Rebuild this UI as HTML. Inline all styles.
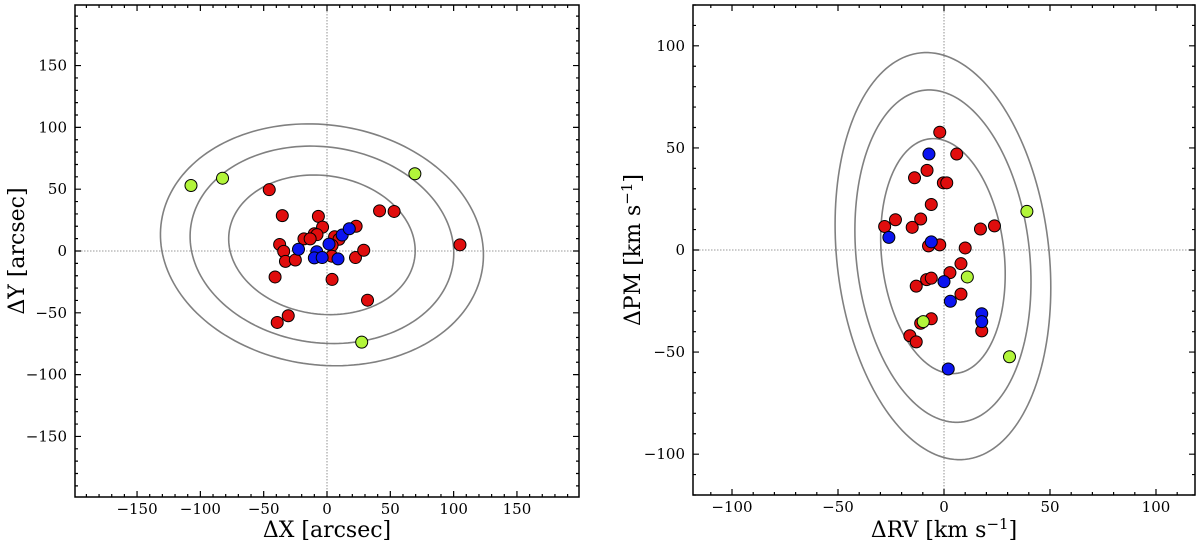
<!DOCTYPE html>
<html><head><meta charset="utf-8"><style>
body{margin:0;background:#fff}
svg{display:block;font-family:"DejaVu Serif","Liberation Serif",serif}
</style></head><body>
<svg id="c" width="1200" height="544" xmlns="http://www.w3.org/2000/svg"></svg>
<script>
// ---------- Data: left panel (ΔX, ΔY arcsec) ----------
const leftRedX=[-45.6,-35.3,-6.8,-3.5,-10,-7.9,-18.2,-13.3,6,9.5,23,41.5,53,105,-37.4,-34.2,-32.8,-25,4,3.8,22.5,29,-41,4,32,-30.6,-39.3];
const leftRedY=[49.6,28.6,28,19.3,14,13.2,9.8,9.8,11.5,9.5,20,32.5,32,5,5.3,-0.3,-8.4,-7.3,4.5,-4.2,-5.3,0.6,-21,-23,-39.8,-52.4,-57.8];
const leftBlueX=[-22.5,1.6,12,17.6,-8.1,-10,-3.8,8.7];
const leftBlueY=[1.4,5.6,12.9,18,-0.6,-5.6,-5.3,-6.4];
const leftGreenX=[-107.4,-82.5,69.4,27.4];
const leftGreenY=[53,58.9,62.5,-73.7];
const leftEllCenter=[-4,5];
const leftEllAxes=[74,56];
const leftEllAngle=-0.153;
const ellLevels=[1,1.414,1.732];
const leftTicks=[-150,-100,-50,0,50,100,150];
// ---------- Data: right panel (ΔRV, ΔPM km/s) ----------
const rightRedX=[-2,6,-8,-13.9,-0.3,1.3,-6,-22.9,-11,-28,-15,17.2,23.8,-7.3,-2,10,8,2.8,-8.2,-6,-13.1,8,-11,-6,-16.1,-13.1,17.8];
const rightRedY=[57.7,47,39,35.4,32.9,32.9,22.3,14.8,15.2,11.5,11.1,10.3,11.8,2,2.5,1,-6.7,-11.1,-14.5,-13.8,-17.7,-21.6,-35.9,-33.7,-42,-45,-39.6];
const rightBlueX=[-7.1,-26,-6,0,3,17.8,17.8,2];
const rightBlueY=[47,6.2,4,-15.5,-25.1,-31.2,-35.1,-58.3];
const rightGreenX=[39.1,11,-9.8,30.9];
const rightGreenY=[18.9,-13.2,-35.1,-52.3];
const rightEllCenter=[-0.5,-3];
const rightEllAxes=[57.8,28.9];
const rightEllAngle=1.676;
const rightTicks=[-100,-50,0,50,100];

const NS="http://www.w3.org/2000/svg";
const svg=document.getElementById('c');
function mk(tag,attrs,parent){const e=document.createElementNS(NS,tag);for(const k in attrs)e.setAttribute(k,attrs[k]);(parent||svg).appendChild(e);return e;}

function panel(p){
  const g=mk('g',{});
  
  
  const sx=v=>p.x0+(v-p.xmin)/(p.xmax-p.xmin)*(p.x1-p.x0);
  const sy=v=>p.y1-(v-p.ymin)/(p.ymax-p.ymin)*(p.y1-p.y0);
  const zx=mk('line',{x1:sx(0),x2:sx(0),y1:p.y0,y2:p.y1,stroke:'#777','stroke-width':0.8,'stroke-dasharray':'1.5,1.5'},g);
  
  
  const zy=mk('line',{x1:p.x0,x2:p.x1,y1:sy(0),y2:sy(0),stroke:'#777','stroke-width':0.8,'stroke-dasharray':'1.5,1.5'},g);
  
  
  ellLevels.forEach((lv,i)=>{
    const a=p.axes[0]*lv,b=p.axes[1]*lv,al=p.angle;
    let d='';
    for(let k=0;k<=180;k++){
      const t=k/180*2*Math.PI;
      const x=p.center[0]+a*Math.cos(t)*Math.cos(al)-b*Math.sin(t)*Math.sin(al);
      const y=p.center[1]+a*Math.cos(t)*Math.sin(al)+b*Math.sin(t)*Math.cos(al);
      d+=(k?'L':'M')+sx(x).toFixed(2)+','+sy(y).toFixed(2);
    }
    const e=mk('path',{d:d+'Z',fill:'none',stroke:'#808080','stroke-width':1.6},g);
    
    
  });
  const sets=[[p.rx,p.ry,'#e00d0d','red'],[p.bx,p.by,'#0b14f0','blue'],[p.gx,p.gy,'#b2f53a','green']];
  sets.forEach(s=>{
    s[0].forEach((v,i)=>{
      const c=mk('circle',{cx:sx(v),cy:sy(s[1][i]),r:6,fill:s[2],stroke:'#000','stroke-width':1},g);
      
      
    });
  });
  const fr=mk('rect',{x:p.x0,y:p.y0,width:p.x1-p.x0,height:p.y1-p.y0,fill:'none',stroke:'#000','stroke-width':1.5},g);
  
  
  let td='';
  for(let v=Math.ceil(p.xmin/10)*10;v<=p.xmax;v+=10){
    const L=(v%50===0)?6:3;const x=sx(v);
    td+=`M${x},${p.y1}v${-L}M${x},${p.y0}v${L}`;
  }
  for(let v=Math.ceil(p.ymin/10)*10;v<=p.ymax;v+=10){
    const L=(v%50===0)?6:3;const y=sy(v);
    td+=`M${p.x0},${y}h${L}M${p.x1},${y}h${-L}`;
  }
  const tk=mk('path',{d:td,stroke:'#000','stroke-width':1.2,fill:'none'},g);
  
  
  p.ticks.forEach(v=>{
    const t=mk('text',{x:sx(v),y:p.y1+17,'text-anchor':'middle','font-size':15},g);
    t.textContent=(v<0?'\u2212':'')+Math.abs(v);
    
    
    const u=mk('text',{x:p.x0-8,y:sy(v)+5,'text-anchor':'end','font-size':15},g);
    u.textContent=(v<0?'\u2212':'')+Math.abs(v);
    
    
  });
  const xt=mk('text',{x:(p.x0+p.x1)/2,y:537,'text-anchor':'middle','font-size':22},g);
  xt.innerHTML=p.xlabel;
  
  
  const cy=(p.y0+p.y1)/2;
  const yt=mk('text',{x:p.ylx,y:cy,'text-anchor':'middle','font-size':22,transform:`rotate(-90 ${p.ylx} ${cy})`},g);
  yt.innerHTML=p.ylabel;
  
  
}

panel({name:'position-panel',x0:75,x1:579,y0:5,y1:497,xmin:-199,xmax:199,ymin:-199,ymax:199,
  rx:leftRedX,ry:leftRedY,bx:leftBlueX,by:leftBlueY,gx:leftGreenX,gy:leftGreenY,
  center:leftEllCenter,axes:leftEllAxes,angle:leftEllAngle,ticks:leftTicks,
  xlabel:'ΔX [arcsec]',ylabel:'ΔY [arcsec]',ylx:24});
panel({name:'velocity-panel',x0:693,x1:1195,y0:5,y1:495,xmin:-118.4,xmax:118.4,ymin:-120,ymax:120,
  rx:rightRedX,ry:rightRedY,bx:rightBlueX,by:rightBlueY,gx:rightGreenX,gy:rightGreenY,
  center:rightEllCenter,axes:rightEllAxes,angle:rightEllAngle,ticks:rightTicks,
  xlabel:'ΔRV [km s<tspan dy="-8" font-size="15">−1</tspan><tspan dy="8">]</tspan>',
  ylabel:'ΔPM [km s<tspan dy="-8" font-size="15">−1</tspan><tspan dy="8">]</tspan>',ylx:640});
</script>
</body></html>
